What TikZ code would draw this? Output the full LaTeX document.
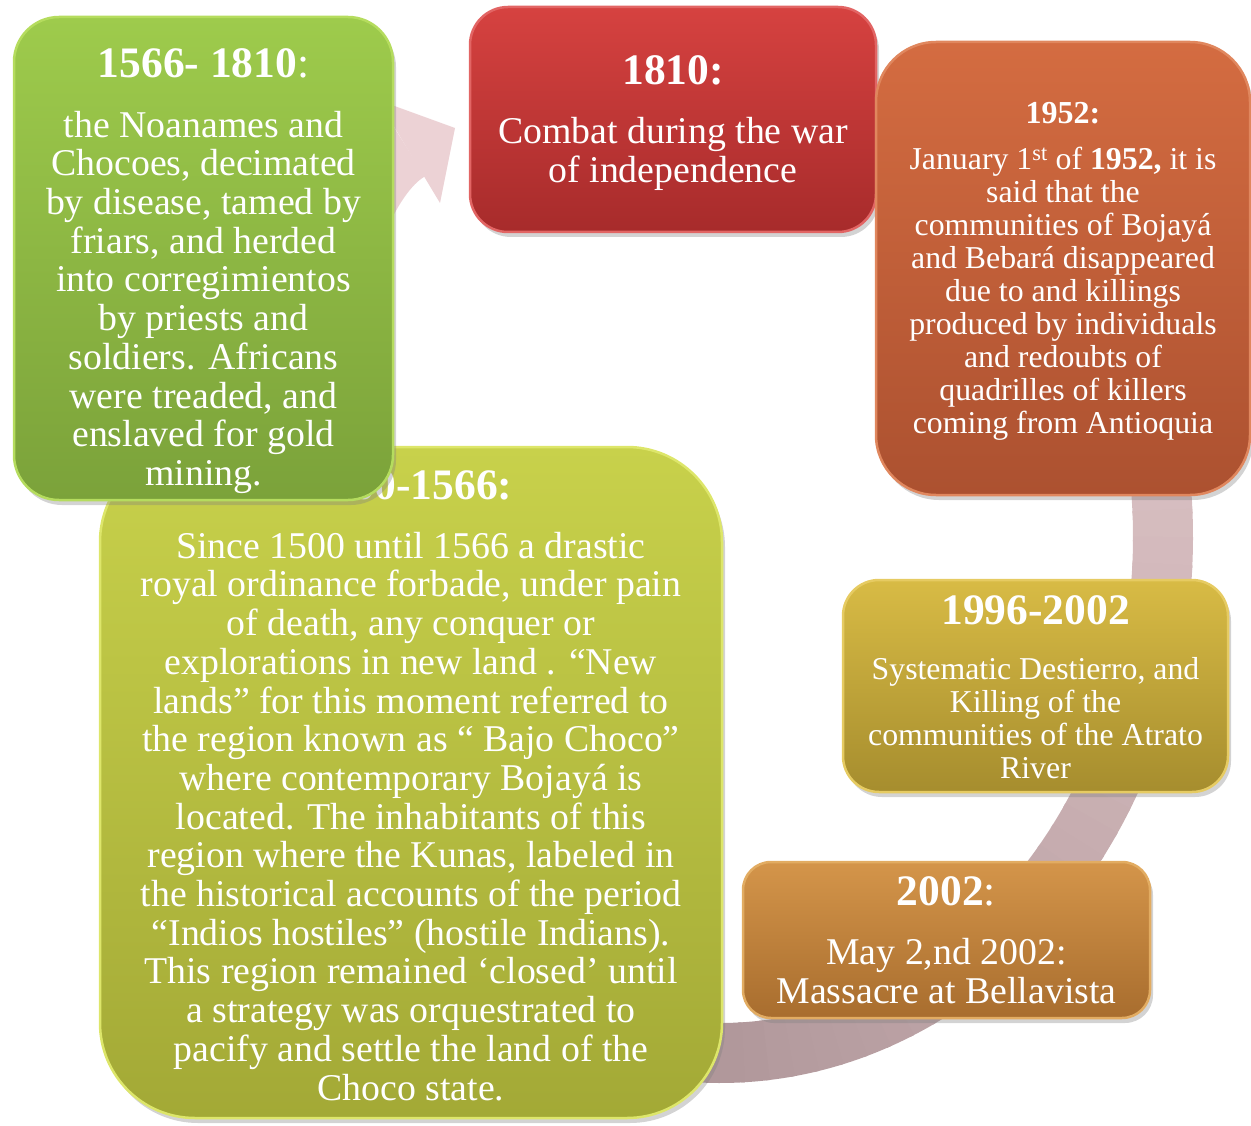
\documentclass[tikz,border=0pt]{standalone}
\usepackage{fontspec}
\setmainfont{Liberation Serif}
\usetikzlibrary{positioning,shadows}

\definecolor{ringlight}{HTML}{ECD2D5}
\definecolor{ringdark}{HTML}{B0979A}
\definecolor{grntop}{HTML}{9ECB4C}
\definecolor{grnbot}{HTML}{7BA23A}
\definecolor{grnrim}{HTML}{B5DC5E}
\definecolor{ylwtop}{HTML}{C8D14B}
\definecolor{ylwbot}{HTML}{A3A936}
\definecolor{ylwrim}{HTML}{DDE66A}
\definecolor{redtop}{HTML}{D64240}
\definecolor{redbot}{HTML}{A72B2B}
\definecolor{redrim}{HTML}{E26564}
\definecolor{orgtop}{HTML}{D46C41}
\definecolor{orgbot}{HTML}{AC5130}
\definecolor{orgrim}{HTML}{E0875E}
\definecolor{gldtop}{HTML}{D8BB45}
\definecolor{gldbot}{HTML}{A68D2E}
\definecolor{gldrim}{HTML}{E6CB62}
\definecolor{brztop}{HTML}{D4954A}
\definecolor{brzbot}{HTML}{A86D2E}
\definecolor{brzrim}{HTML}{E2AC62}

\tikzset{
  card/.style n args={4}{rounded corners=#1, top color=#2, bottom color=#3, draw=#4,
    line width=2.5pt, inner sep=0pt,
    drop shadow={opacity=0.35, shadow xshift=3pt, shadow yshift=-5pt}},
  bigtxt/.style={text=white, align=center, inner sep=0pt, font=\fontsize{37.8}{38.7}\selectfont},
  smalltxt/.style={text=white, align=center, inner sep=0pt, font=\fontsize{31.8}{33}\selectfont},
}
\newcommand{\ttl}{\fontsize{43.5}{43.5}\selectfont}

\begin{document}
\begin{tikzpicture}[x=1pt, y=-1pt]
    \useasboundingbox (0,0) rectangle (1251,1126);

    % the cycle arrow behind the boxes
    \foreach \a [evaluate=\a as \p using {(\a<90) ? ((\a+60)/1.5) : (100-(\a-90)/1.15)}] in {-60,-57,...,204}
      \draw[line width=60pt, ringdark!\p!ringlight] (720,537) ++(\a:443 and 516)
        arc[start angle=\a, delta angle=3.5, x radius=443, y radius=516];
    \draw[line width=60pt, ringlight] (720,537) ++(205:443 and 516)
      .. controls (341,263) and (366,176) .. (409,151);
    \fill[ringlight] (378,100) -- (455,128) -- (440,203) -- cycle;

    % Define nodes
    \node[card={95pt}{ylwtop}{ylwbot}{ylwrim}, minimum width=622pt, minimum height=671pt] (colony) at (411,782.5) {};
    \node[bigtxt, below=25pt of colony.north] (colonytxt) {{\ttl\textbf{1500-1566:}}\\[19.7pt]
      Since 1500 until 1566 a drastic\\ royal ordinance forbade, under pain\\ of death, any conquer or\\
      explorations in new land . “New\\ lands” for this moment referred to\\
      the region known as “ Bajo Choco”\\ where  contemporary  Bojayá is\\
      located. The inhabitants of this\\ region where the Kunas, labeled in\\
      the historical accounts of the period\\ “Indios hostiles” (hostile Indians).\\
      This region remained ‘closed’ until\\ a strategy was orquestrated to\\
      pacify and settle the land of the\\ Choco state.};

    \node[card={45pt}{grntop}{grnbot}{grnrim}, minimum width=379pt, minimum height=483pt] (early) at (203.5,258.5) {};
    \node[bigtxt, below=33pt of early.north] (earlytxt) {{\ttl\textbf{1566- 1810}:}\\[20.6pt]
      the Noanames and\\ Chocoes, decimated\\ by disease, tamed by\\ friars, and herded\\
      into corregimientos\\ by priests and\\ soldiers. Africans\\ were treaded, and\\
      enslaved for gold\\ mining.};

    \node[card={38pt}{redtop}{redbot}{redrim}, minimum width=406pt, minimum height=225pt] (war) at (673,119.5) {};
    \node[bigtxt, below=50pt of war.north] (wartxt) {{\ttl\textbf{1810:}}\\[20.3pt]
      Combat during the war\\ of independence};

    \node[card={60pt}{orgtop}{orgbot}{orgrim}, minimum width=374pt, minimum height=453pt] (jan) at (1063,268.5) {};
    \node[smalltxt, below=61pt of jan.north] (jantxt) {{\fontsize{32}{32}\selectfont\textbf{1952:}}\\[13.6pt]
      January 1\textsuperscript{st} of  \textbf{1952,} it is\\ said that  the\\ communities of Bojayá\\
      and Bebará disappeared\\ due to  and killings\\ produced by individuals\\
      and  redoubts of\\ quadrilles of killers\\ coming from Antioquia};

    \node[card={36pt}{gldtop}{gldbot}{gldrim}, minimum width=385pt, minimum height=212pt] (river) at (1035.5,686) {};
    \node[smalltxt, below=17pt of river.north] (rivertxt) {{\ttl\textbf{1996-2002}}\\[21.3pt]
      Systematic Destierro, and\\ Killing of the\\ communities of the Atrato\\ River};

    \node[card={28pt}{brztop}{brzbot}{brzrim}, minimum width=407pt, minimum height=156pt] (bella) at (946.5,940) {};
    \node[bigtxt, below=16pt of bella.north] (bellatxt) {{\ttl\textbf{2002}:}\\[19.8pt]
      May 2,nd 2002:\\ Massacre at Bellavista};
\end{tikzpicture}
\end{document}
